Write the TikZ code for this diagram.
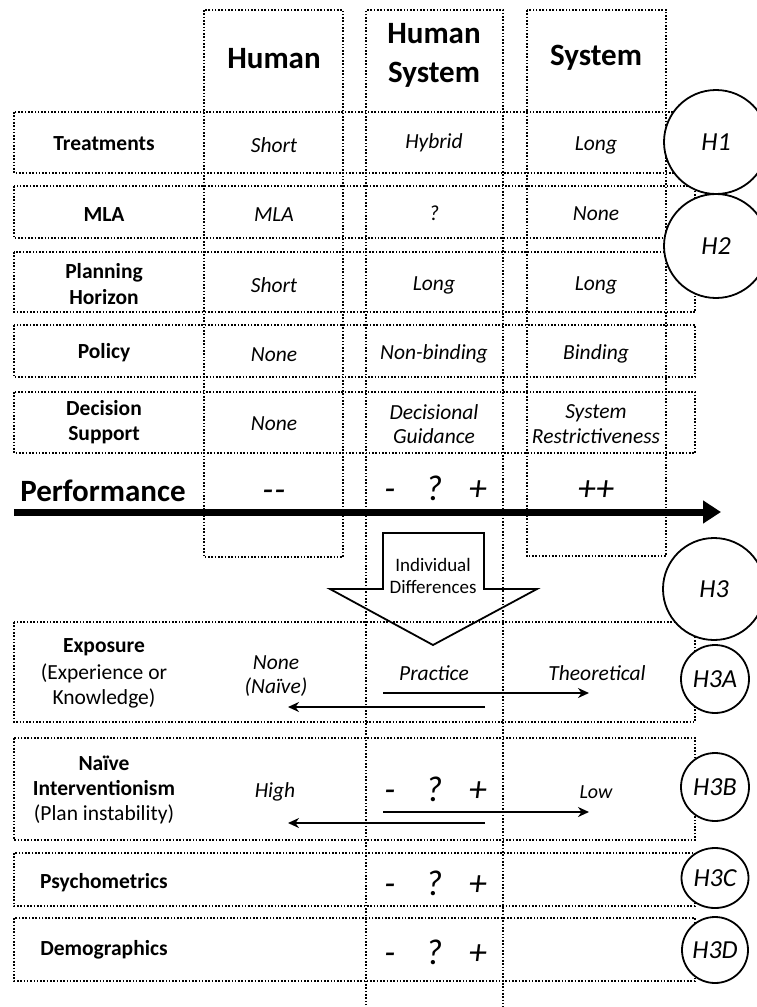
\documentclass[tikz,border=0pt]{standalone}
\usepackage{fontspec}
\setmainfont{Carlito}
\usetikzlibrary{arrows.meta,shapes.geometric}

\begin{document}
\begin{tikzpicture}[x=1pt,y=-1pt,
  dotbox/.style={draw, line width=1.6pt, dash pattern=on 1.6pt off 1.7pt},
  rowlab/.style={font=\fontsize{21.5}{25.5}\selectfont\bfseries, align=center, inner sep=0pt},
  sublab/.style={font=\fontsize{21.5}{25.5}\selectfont, align=center, inner sep=0pt},
  cellval/.style={font=\fontsize{21.5}{24.5}\selectfont\itshape, align=center, inner sep=0pt},
  colhead/.style={font=\fontsize{31}{39}\selectfont\bfseries, align=center, inner sep=0pt},
  bigsign/.style={font=\fontsize{36}{40}\selectfont\itshape, inner sep=0pt, anchor=base},
  hyp/.style={draw, line width=1.8pt, fill=white, circle, inner sep=0pt, font=\fontsize{26}{30}\selectfont\itshape},
  thinarrow/.style={line width=1.8pt, -{Stealth[length=11pt,width=10pt]}},
]
\clip (0,0) rectangle (757,1007);

% the three option columns
\draw[dotbox] (204,10) rectangle (343,557);
\draw[dotbox] (366,1012) -- (366,10) -- (503,10) -- (503,1012);
\draw[dotbox] (527,10) rectangle (666,556);

% the factor rows
\draw[dotbox] (14,112) rectangle (695,173);
\draw[dotbox] (14,186) rectangle (695,238);
\draw[dotbox] (14,252) rectangle (695,312);
\draw[dotbox] (14,325) rectangle (695,377);
\draw[dotbox] (14,392) rectangle (695,453);
\draw[dotbox] (14,622) rectangle (695,722);
\draw[dotbox] (14,738) rectangle (695,840);
\draw[dotbox] (14,853) rectangle (695,906);
\draw[dotbox] (14,918) rectangle (695,981);

% column headings
\node[colhead] (hhum) at (274,59) {Human};
\node[colhead] (hhs)  at (434,55) {Human\\System};
\node[colhead] (hsys) at (596,58) {System};

% design factors
\node[rowlab] (ltreat) at (104,144) {Treatments};
\node[rowlab] (lmla)   at (104,215) {MLA};
\node[rowlab] (lplan)  at (104,284) {Planning\\Horizon};
\node[rowlab] (lpol)   at (104,353) {Policy};
\node[rowlab] (ldss)   at (104,422) {Decision\\Support};

\node[cellval] (v11) at (274,145) {Short};
\node[cellval] (v12) at (434,143) {Hybrid};
\node[cellval] (v13) at (596,145) {Long};
\node[cellval] (v21) at (274,215) {MLA};
\node[cellval] (v22) at (434,213) {?};
\node[cellval] (v23) at (596,214) {None};
\node[cellval] (v31) at (274,285) {Short};
\node[cellval] (v32) at (434,285) {Long};
\node[cellval] (v33) at (596,285) {Long};
\node[cellval] (v41) at (274,355) {None};
\node[cellval] (v42) at (434,354) {Non-binding};
\node[cellval] (v43) at (596,354) {Binding};
\node[cellval] (v51) at (274,424) {None};
\node[cellval] (v52) at (434,424) {Decisional\\Guidance};
\node[cellval] (v53) at (596,424) {System\\Restrictiveness};

% performance axis
\node[font=\fontsize{31}{36}\selectfont\bfseries, inner sep=0pt] (perf) at (103,491) {Performance};
\node[bigsign] (p1) at (274,501) {-\kern1pt-};
\node[bigsign] (p2) at (434,500) {\makebox[44pt]{-}\makebox[44pt]{?}\makebox[44pt]{+}};
\node[bigsign] (p3) at (596,500) {++};
\coordinate (pstart) at (14,512);
\coordinate (pend) at (721,512);
\draw[line width=7pt, -{Triangle[length=18pt,width=22pt]}] (pstart) -- (pend);

% individual differences block arrow
\draw[line width=1.8pt, line join=miter]
  (383,533) -- (484,533) -- (484,589) -- (537,589) -- (433,645)
  -- (330,589) -- (383,589) -- cycle;
\node[font=\fontsize{19}{22}\selectfont, align=center, inner sep=0pt] (indiv) at (433,576) {Individual\\Differences};

% exposure
\node[rowlab] (lexp) at (104,647) {Exposure};
\node[sublab] (lexp2) at (104,686) {(Experience or\\Knowledge)};
\node[cellval] (none) at (276,676) {None\\(Naïve)};
\node[cellval] (prac) at (434,673) {Practice};
\node[cellval] (theo) at (597,673) {Theoretical};
\coordinate (ea) at (383,693);
\coordinate (eb) at (589,693);
\coordinate (ec) at (485,707);
\coordinate (ed) at (288,707);
\draw[thinarrow] (ea) -- (eb);
\draw[thinarrow] (ec) -- (ed);

% naive interventionism
\node[rowlab] (lnai) at (104,776) {Naïve\\Interventionism};
\node[sublab] (lnai2) at (104,814) {(Plan instability)};
\node[cellval] (high) at (275,792) {High};
\node[bigsign] (n2) at (434,801) {\makebox[44pt]{-}\makebox[44pt]{?}\makebox[44pt]{+}};
\node[cellval, font=\fontsize{20}{24}\selectfont\itshape] (low) at (596,792) {Low};
\coordinate (na) at (383,812);
\coordinate (nb) at (589,812);
\coordinate (nc) at (485,823);
\coordinate (nd) at (288,823);
\draw[thinarrow] (na) -- (nb);
\draw[thinarrow] (nc) -- (nd);

% psychometrics and demographics
\node[rowlab] (lpsy) at (104,883) {Psychometrics};
\node[bigsign] (s2) at (434,895) {\makebox[44pt]{-}\makebox[44pt]{?}\makebox[44pt]{+}};
\node[rowlab] (ldem) at (104,950) {Demographics};
\node[bigsign] (d2) at (434,964) {\makebox[44pt]{-}\makebox[44pt]{?}\makebox[44pt]{+}};

% hypotheses
\node[hyp, minimum size=104pt] (h1) at (716,142) {H1};
\node[hyp, minimum size=104pt] (h2) at (716,246) {H2};
\node[hyp, minimum size=102pt] (h3) at (714,589) {H3};
\node[hyp, minimum size=68pt] (h3a) at (715,679) {H3A};
\node[hyp, minimum size=68pt] (h3b) at (715,787) {H3B};
\node[hyp, ellipse, minimum width=67pt, minimum height=60pt] (h3c) at (715,878) {H3C};
\node[hyp, minimum size=66pt] (h3d) at (715,950) {H3D};
\end{tikzpicture}
\end{document}
